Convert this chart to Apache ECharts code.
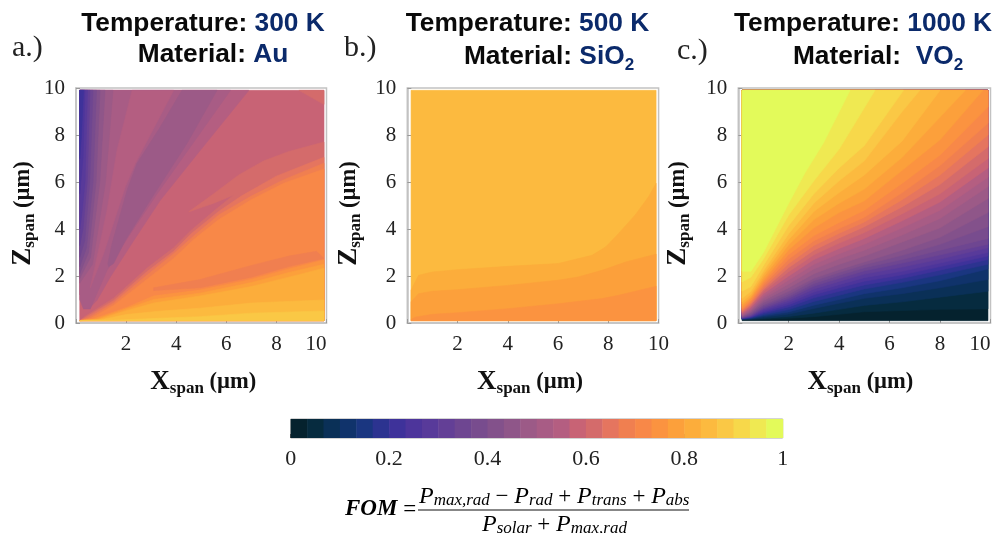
<!DOCTYPE html>
<html><head><meta charset="utf-8">
<style>html,body{margin:0;padding:0;background:#fff}#c{width:997px;height:533px}</style>
<script src="https://cdn.jsdelivr.net/npm/echarts@6/dist/echarts.min.js"></script>
</head><body><div id="c"></div>
<script>
// ---------- colour scale: 30 discrete FOM levels ----------
const levelColors = ['#05222E','#062B3F','#0A3057','#10336B','#1A3680','#2C3390','#3E329A','#4D359B','#583A9A','#633F96',
 '#6E4691','#784C8E','#83518B','#8F5689','#9C5A87','#A85C85','#B45E81','#C86375','#D46B6B','#E5755F',
 '#F07F50','#F88848','#FB9340','#FCA03B','#FCAD3B','#FCBA3F','#FAC845','#F7D84A','#EFE952','#E3FA5A'];

// ---------- contour layers: [level, closure, [[x,z],...]] (x,z in µm) ----------
const auBase = 17;
const auLayers = [
 [18,'none',[[8.9,9.9],[9.9,9.9],[9.9,9.3]]],
 [16,'none',[[0.15,9.9],[6.9,9.9],[4.97,7.36],[3.37,5.23],[2.3,3.5],[1.37,1.96],[0.84,0.97],[0.5,0.6],[0.35,1],[0.15,1.2]]],
 [15,'none',[[0.15,9.9],[6.17,9.9],[4.57,7.5],[3.24,5.5],[2.17,3.8],[1.24,2.24],[0.77,1.1],[0.57,0.6],[0.3,0.6],[0.15,1]]],
 [16,'none',[[2.24,9.9],[3.9,9.9],[2.37,6.8],[1.97,5.8],[1.1,2.95],[0.57,1.5],[0.9,3.1],[1.24,4.8],[1.64,7.36]]],
 [14,'none',[[4.23,9.9],[5.63,9.9],[4.43,7.64],[2.97,5.23],[1.97,3.52],[1.5,2.53],[1.3,2.39],[1.27,2.53],[1.44,3.38],[2.04,5.65],[2.44,6.8],[3.37,8.35]]],
 [14,'none',[[0.15,9.9],[1.48,9.9],[1.18,6],[0.66,2.5],[0.15,1.7]]],
 [13,'none',[[0.15,9.9],[1.16,9.9],[0.95,6],[0.58,2.8],[0.15,1.9]]],
 [12,'none',[[0.15,9.9],[0.96,9.9],[0.8,6],[0.5,3],[0.15,2.1]]],
 [11,'none',[[0.15,9.9],[0.82,9.9],[0.68,6],[0.42,3.2],[0.15,2.4]]],
 [10,'none',[[0.15,9.9],[0.68,9.9],[0.55,6],[0.35,3.5],[0.15,2.8]]],
 [9,'none',[[0.15,9.9],[0.56,9.9],[0.45,6],[0.28,4],[0.15,3.3]]],
 [8,'none',[[0.15,9.9],[0.46,9.9],[0.36,6],[0.22,4.5],[0.15,4]]],
 [7,'none',[[0.15,9.9],[0.36,9.9],[0.28,7],[0.15,5.5]]],
 [6,'none',[[0.15,9.9],[0.3,9.9],[0.22,8],[0.15,7]]],
 [18,'below',[[0.35,0.28],[1.5,1.05],[2.85,2.35],[3.9,3.2],[4.6,3.95],[5.6,4.85],[6.3,5.45],[5.5,5.1],[4.5,4.73],[5.5,5.5],[6.5,6.3],[7.5,6.9],[8.5,7.3],[9.9,7.7]]],
 [19,'below',[[0.4,0.25],[1.5,0.95],[2.85,2.2],[3.9,3.05],[4.6,3.8],[5.7,4.75],[6.6,5.4],[8,6.25],[9.9,7.05]]],
 [20,'below',[[0.5,0.22],[1.5,0.85],[2.85,2.05],[3.9,2.95],[4.7,3.7],[5.7,4.6],[7,5.4],[8.3,6.1],[9.9,6.8]]],
 [21,'below',[[0.6,0.2],[1.5,0.75],[2.7,1.75],[3.9,2.75],[4.7,3.55],[5.7,4.4],[7,5.25],[8.3,5.95],[9.9,6.55]]],
 [20,'none',[[3.1,1.5],[4.95,1.85],[7,2.45],[8.5,2.85],[9.6,3.05],[9.9,2.75],[8.5,2.4],[7,1.95],[4.95,1.5],[3.1,1.38]]],
 [22,'below',[[0.7,0.18],[2,0.65],[3.1,1.15],[4.95,1.4],[7,1.85],[8.5,2.3],[9.9,2.68]]],
 [23,'below',[[0.8,0.16],[2,0.6],[3.1,1],[4.95,1.27],[7,1.72],[8.5,2.15],[9.9,2.5]]],
 [24,'below',[[0.9,0.15],[2,0.52],[3.1,0.85],[4.95,1.15],[7,1.55],[8.5,1.95],[9.9,2.33]]],
 [25,'below',[[1,0.14],[2,0.36],[3.3,0.5],[4.95,0.63],[7,0.85],[9.9,0.98]]],
 [26,'below',[[1.5,0.12],[3.3,0.2],[4.95,0.27],[7,0.42],[9.9,0.51]]]
];

const sio2Base = 25;
const sio2Layers = [
 [24,'below',[[0.15,1.4],[0.45,2.03],[1,2.17],[2,2.27],[4,2.41],[6,2.53],[7.35,2.88],[7.9,3.24],[8.4,3.8],[9.07,4.6],[9.6,5.37],[9.9,5.94]]],
 [23,'below',[[0.15,0.9],[0.45,1.25],[1,1.35],[2,1.42],[4,1.6],[6,1.82],[6.8,1.96],[7.75,2.24],[8.7,2.6],[9.9,2.93]]],
 [22,'below',[[0.15,0.14],[0.3,0.25],[1,0.37],[2,0.44],[4,0.61],[6,0.82],[7.75,1.04],[8.4,1.18],[9.9,1.56]]]
];

const vo2Base = 0;
const vo2X = [0.15,0.5,1,2,3,4,5,6.5,8,9.9];
const vo2Z = [
 [1,[0.14,0.15,0.16,0.2,0.27,0.37,0.48,0.53,0.58,0.6]],
 [2,[0.15,0.16,0.2,0.28,0.42,0.58,0.75,0.9,1.1,1.35]],
 [3,[0.16,0.18,0.26,0.38,0.62,0.84,1.05,1.25,1.5,1.85]],
 [4,[0.17,0.2,0.31,0.47,0.76,1,1.25,1.5,1.8,2.3]],
 [5,[0.18,0.22,0.36,0.57,0.92,1.18,1.45,1.73,2.05,2.5]],
 [6,[0.19,0.24,0.43,0.68,1.07,1.35,1.62,1.9,2.25,2.7]],
 [7,[0.2,0.26,0.48,0.78,1.2,1.5,1.78,2.05,2.4,2.85]],
 [8,[0.21,0.28,0.54,0.87,1.32,1.63,1.93,2.2,2.55,3]],
 [9,[0.22,0.3,0.6,0.96,1.45,1.77,2.08,2.38,2.72,3.2]],
 [10,[0.23,0.33,0.65,1.05,1.57,1.9,2.22,2.55,2.9,3.35]],
 [11,[0.24,0.36,0.72,1.14,1.68,2.03,2.35,2.7,3.1,3.6]],
 [12,[0.26,0.4,0.78,1.23,1.8,2.15,2.48,2.88,3.35,4.1]],
 [13,[0.28,0.45,0.87,1.35,1.9,2.27,2.6,3.1,3.65,4.7]],
 [14,[0.3,0.5,0.96,1.5,2.1,2.5,2.85,3.45,4.05,5.3]],
 [15,[0.33,0.55,1.05,1.66,2.3,2.73,3.1,3.75,4.45,5.8]],
 [16,[0.36,0.6,1.14,1.83,2.5,2.95,3.35,4.05,4.8,6.2]],
 [17,[0.4,0.66,1.25,2,2.7,3.17,3.6,4.35,5.15,6.6]],
 [18,[0.44,0.72,1.35,2.18,2.9,3.4,3.85,4.65,5.5,7]],
 [19,[0.48,0.78,1.43,2.36,3.1,3.62,4.1,4.95,5.9,7.5]],
 [20,[0.52,0.84,1.52,2.53,3.3,3.82,4.3,5.25,6.3,8]],
 [21,[0.57,0.9,1.62,2.72,3.5,4.02,4.5,5.55,6.7,8.5]],
 [22,[0.62,0.97,1.72,2.92,3.72,4.28,4.8,5.95,7.15,9.2]]
];
const vo2Upper = [
 [23,[[0.15,0.7],[0.5,1.05],[1,1.82],[2,3.12],[3,4.05],[4,4.7],[5,5.2],[6.5,6.5],[8,7.8],[9.7,9.9]]],
 [24,[[0.15,0.8],[0.5,1.12],[1,1.95],[2,3.33],[3,4.4],[4,5.1],[5,5.7],[6.5,7.05],[9,9.9]]],
 [25,[[0.15,0.9],[0.5,1.22],[1,2.08],[2,3.55],[3,4.75],[4,5.55],[5,6.3],[6.5,7.75],[8,9.9]]],
 [26,[[0.15,1.05],[0.5,1.35],[1,2.22],[2,3.8],[3,5.1],[4,6.05],[5,6.9],[6.5,9],[7.2,9.9]]],
 [27,[[0.15,1.35],[0.5,1.55],[1,2.45],[2,4.15],[3,5.5],[4,6.6],[5,7.55],[6.55,9.9]]],
 [28,[[0.15,1.75],[0.5,1.95],[1,2.72],[2,4.6],[3,6.05],[4,7.4],[5.42,9.9]]],
 [29,[[0.15,2.2],[0.5,2.2],[1,3],[2,5.1],[2.65,6.4],[3.37,7.65],[4.43,9.9]]]
];
const vo2Layers = vo2Z.map(r => [r[0],'above',vo2X.map((x,i)=>[x,r[1][i]])])
  .concat(vo2Upper.map(r => [r[0],'above',r[1]]));

// ---------- extent of the sampled field ----------
const X0=0.15,X1=9.9,Z0=0.1,Z1=9.9;

function closeShape(mode,pts){
  if(mode==='below') return pts.concat([[X1,Z0],[X0,Z0]]);
  if(mode==='above'){
    const last=pts[pts.length-1];
    return last[0]>=X1 ? pts.concat([[X1,Z1],[X0,Z1]]) : pts.concat([[X0,Z1]]);
  }
  return pts;
}
function contourSeries(idx,base,layers){
  const all=[[base,'none',[[X0,Z0],[X1,Z0],[X1,Z1],[X0,Z1]]]].concat(layers);
  return {type:'custom',coordinateSystem:'cartesian2d',xAxisIndex:idx,yAxisIndex:idx,silent:true,clip:false,
    data:all.map((l,i)=>[l[2][0][0],l[2][0][1],i]),
    encode:{x:0,y:1},
    renderItem:(p,api)=>{
      const l=all[api.value(2)];
      const pts=closeShape(l[1],l[2]).map(q=>api.coord(q));
      const c=levelColors[l[0]];
      return {type:'polygon',shape:{points:pts},style:{fill:c,stroke:c,lineWidth:0.6}};
    }};
}

const serif='"Liberation Serif",serif', sans='"Liberation Sans",sans-serif';
const axisName=(sym)=>`{b|${sym}}{s|span}{u| (µm)}`;
const nameRich={
  b:{fontFamily:serif,fontWeight:'bold',fontSize:27,color:'#111'},
  s:{fontFamily:serif,fontWeight:'bold',fontSize:17,color:'#111',padding:[13,0,0,0]},
  u:{fontFamily:serif,fontWeight:'bold',fontSize:22.5,color:'#111'}
};
const frame={show:true,lineStyle:{color:'#c2c2c2',width:1.5}};
const panels=[
 {left:76,width:250.5,gapY:38,gapX:44,xPad:[0,0,0,4],maxAlign:'right'},
 {left:407.3,width:251.3,gapY:43,gapX:44,xPad:[0,6,0,0],maxAlign:'center'},
 {left:738.3,width:252.2,gapY:45,gapX:44,xPad:[0,8,0,0],maxAlign:'right'}
];
const grids=panels.map(p=>({left:p.left,width:p.width,top:88,height:235,show:true,borderColor:'#c2c2c2',borderWidth:1.5,backgroundColor:'#fff'}));
const xAxes=panels.map((p,i)=>({gridIndex:i,type:'value',min:0,max:10,interval:2,name:axisName('X'),nameLocation:'middle',nameGap:p.gapX,
  nameTextStyle:{rich:nameRich,padding:p.xPad},axisLine:frame,axisTick:{inside:true,length:4,lineStyle:{color:'#9a9a9a'}},splitLine:{show:false},
  axisLabel:{fontFamily:serif,fontSize:21,color:'#222',margin:11,alignMaxLabel:p.maxAlign,formatter:v=>v===0?'':String(v)}}));
const yAxes=panels.map((p,i)=>({gridIndex:i,type:'value',min:0,max:10,interval:2,name:axisName('Z'),nameLocation:'middle',nameGap:p.gapY,nameRotate:90,
  nameTextStyle:{rich:nameRich,padding:[0,16,0,0]},axisLine:frame,axisTick:{inside:true,length:4,lineStyle:{color:'#9a9a9a'}},splitLine:{show:false},
  axisLabel:{fontFamily:serif,fontSize:21,color:'#222',margin:11,padding:[10,0,0,0],formatter:v=>String(v)}}));
// colour bar axis
grids.push({left:290.7,width:492,top:419,height:19,show:true,borderColor:'#a8a8a8',borderWidth:1});
xAxes.push({gridIndex:3,type:'value',min:0,max:1,interval:0.2,axisLine:{show:false},
  axisTick:{inside:true,length:4,lineStyle:{color:'#555'}},splitLine:{show:false},
  axisLabel:{fontFamily:serif,fontSize:22,color:'#222',margin:10,formatter:v=>String(+v.toFixed(1))}});
yAxes.push({gridIndex:3,type:'value',min:0,max:1,show:false});

const barSeries={type:'custom',coordinateSystem:'cartesian2d',xAxisIndex:3,yAxisIndex:3,silent:true,
  data:levelColors.map((c,i)=>[i/levelColors.length,0,i]),encode:{x:0,y:1},
  renderItem:(p,api)=>{
    const i=api.value(2),n=levelColors.length;
    const a=api.coord([i/n,1]),b=api.coord([(i+1)/n,0]);
    return {type:'rect',shape:{x:a[0],y:a[1],width:b[0]-a[0]+0.5,height:b[1]-a[1]},style:{fill:levelColors[i]}};
  }};

const navy='#0B2A6B';
const tRich={k:{fontFamily:sans,fontWeight:'bold',fontSize:26.3,color:'#0a0a0a'},
  v:{fontFamily:sans,fontWeight:'bold',fontSize:26.3,color:navy},
  d:{fontFamily:sans,fontWeight:'bold',fontSize:17,color:navy,padding:[17,0,0,0]}};
const head=(text,cx,y)=>({text,left:cx,top:y,textAlign:'center',padding:0,textStyle:{rich:tRich}});
const tag=(text,x,y)=>({text,left:x,top:y,padding:0,textStyle:{fontFamily:serif,fontSize:30,fontWeight:'normal',color:'#222'}});
const titles=[
 head('{k|Temperature: }{v|300 K}',203,11),head('{k|Material: }{v|Au}',213,42),tag('a.)',12,33),
 head('{k|Temperature: }{v|500 K}',527.5,11),head('{k|Material: }{v|SiO}{d|2}',549,40),tag('b.)',344,33),
 head('{k|Temperature: }{v|1000 K}',863,11),head('{k|Material:  }{v|VO}{d|2}',878,40),tag('c.)',677,36)
];

const fRich={p:{fontFamily:serif,fontStyle:'italic',fontSize:24,color:'#111'},
  i:{fontFamily:serif,fontStyle:'italic',fontSize:17,color:'#111',padding:[7,0,0,0]},
  o:{fontFamily:serif,fontSize:23,color:'#111'},
  f:{fontFamily:serif,fontStyle:'italic',fontWeight:'bold',fontSize:23,color:'#111'}};
const graphics=[
 {type:'text',left:345,top:498,style:{text:'{f|FOM}{o| =}',rich:fRich}},
 {type:'text',left:419,top:485,style:{text:'{p|P}{i|max,rad}{o| − }{p|P}{i|rad}{o| + }{p|P}{i|trans}{o| + }{p|P}{i|abs}',rich:fRich}},
 {type:'rect',left:418,top:509.5,shape:{width:271,height:1},style:{fill:'#111'}},
 {type:'text',left:482,top:513,style:{text:'{p|P}{i|solar}{o| + }{p|P}{i|max,rad}',rich:fRich}}
];

const chart=echarts.init(document.getElementById('c'),null,{renderer:'canvas'});
chart.setOption({animation:false,backgroundColor:'#fff',title:titles,grid:grids,xAxis:xAxes,yAxis:yAxes,graphic:graphics,
  series:[contourSeries(0,auBase,auLayers),contourSeries(1,sio2Base,sio2Layers),contourSeries(2,vo2Base,vo2Layers),barSeries]});
</script></body></html>
